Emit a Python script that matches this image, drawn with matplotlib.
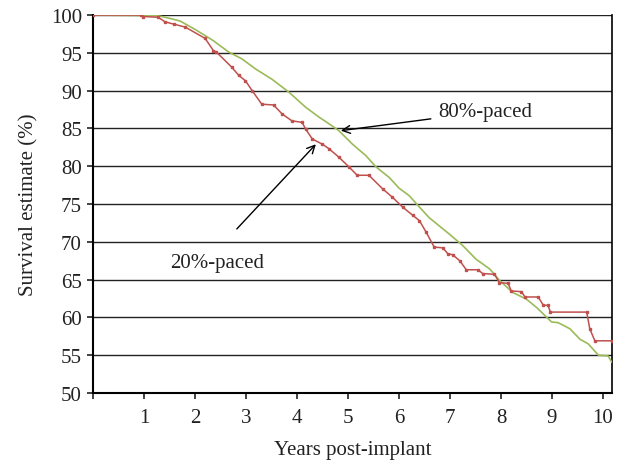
import numpy as np
import matplotlib
matplotlib.use('Agg')
import matplotlib.pyplot as plt

plt.rcParams['font.family'] = ['Liberation Serif', 'DejaVu Serif']

######data######
red_years = [0.0, 0.95, 0.99, 1.28, 1.41, 1.58, 1.81, 2.20, 2.36, 2.42, 2.72, 2.86, 2.99,
             3.12, 3.31, 3.54, 3.71, 3.90, 4.10, 4.17, 4.30, 4.50, 4.63, 4.82, 5.02,
             5.18, 5.41, 5.68, 5.87, 6.07, 6.27, 6.40, 6.53, 6.69, 6.86, 6.96, 7.05,
             7.19, 7.32, 7.55, 7.64, 7.87, 7.97, 8.14, 8.20, 8.40, 8.47, 8.73, 8.83,
             8.92, 8.97, 9.68, 9.74, 9.84, 10.18]
red_surv = [100, 100, 99.8, 99.7, 99.1, 98.8, 98.4, 96.9, 95.3, 95.1, 93.1, 92.0, 91.3,
            90.0, 88.2, 88.1, 86.9, 86.0, 85.8, 84.9, 83.6, 82.9, 82.3, 81.2, 79.9,
            78.8, 78.8, 77.0, 75.9, 74.6, 73.5, 72.8, 71.3, 69.3, 69.2, 68.4, 68.3,
            67.5, 66.3, 66.3, 65.8, 65.7, 64.6, 64.5, 63.5, 63.4, 62.7, 62.7, 61.6,
            61.6, 60.7, 60.7, 58.5, 56.9, 56.9]

green_years = [0.0, 1.28, 1.54, 1.71, 2.00, 2.17, 2.36, 2.66, 2.92, 3.18, 3.51, 3.84,
               4.17, 4.43, 4.63, 4.82, 5.09, 5.35, 5.55, 5.81, 6.00, 6.20, 6.40, 6.59,
               6.79, 6.99, 7.25, 7.51, 7.78, 7.97, 8.23, 8.50, 8.70, 8.99, 9.12, 9.35,
               9.55, 9.71, 9.91, 10.10, 10.17]
green_surv = [100, 99.9, 99.5, 99.2, 98.1, 97.4, 96.6, 95.1, 94.2, 92.9, 91.5, 89.8,
              87.8, 86.5, 85.6, 84.7, 82.9, 81.4, 79.9, 78.5, 77.1, 76.1, 74.6, 73.2,
              72.1, 71.0, 69.5, 67.7, 66.4, 64.9, 63.3, 62.4, 61.3, 59.4, 59.3, 58.5,
              57.1, 56.5, 55.0, 54.9, 54.1]

xticks = [0, 1, 2, 3, 4, 5, 6, 7, 8, 9, 10]
xticklabels = ['', '1', '2', '3', '4', '5', '6', '7', '8', '9', '10']
yticks = [50, 55, 60, 65, 70, 75, 80, 85, 90, 95, 100]

#plot
fig = plt.figure(figsize=(6.22, 4.64), dpi=100)
ax = fig.add_axes([0.1495, 0.1509, 0.8339, 0.8146])

for yv in yticks[1:]:
    ax.axhline(yv, color='#222222', lw=1.0, zorder=1)

ax.plot(green_years, green_surv, color='#9BBB59', lw=1.2, zorder=3)
ax.plot(red_years, red_surv, color='#C0504D', lw=1.1, marker='s', markersize=1.8,
        zorder=4)

ax.set_xlim(0, 10.17)
ax.set_ylim(50, 100)
ax.set_xticks(xticks)
ax.set_xticklabels(xticklabels)
ax.set_yticks(yticks)
ax.tick_params(axis='x', direction='out', length=4, width=1.2, pad=7, labelsize=15,
               colors='#222222')
ax.tick_params(axis='y', direction='out', length=4, width=1.2, pad=4, labelsize=15,
               colors='#222222')

ax.spines['top'].set_visible(False)
ax.spines['left'].set_linewidth(1.5)
ax.spines['bottom'].set_linewidth(1.5)
ax.spines['right'].set_linewidth(1.2)

ax.set_xlabel('Years post-implant', fontsize=15, color='#222222', labelpad=9)
ax.set_ylabel('Survival estimate (%)', fontsize=15, color='#222222', labelpad=9)

ax.annotate('80%-paced', xy=(4.86, 84.7), xytext=(6.76, 87.2), fontsize=15,
            color='#222222', va='center', ha='left',
            arrowprops=dict(arrowstyle='->', color='black', lw=1.0,
                            shrinkA=3, shrinkB=0, mutation_scale=14))
ax.annotate('20%-paced', xy=(4.37, 82.9), xytext=(1.51, 67.3), fontsize=15,
            color='#222222', va='center', ha='left')
ax.annotate('', xy=(4.37, 82.9), xytext=(2.82, 71.7),
            arrowprops=dict(arrowstyle='->', color='black', lw=1.0,
                            shrinkA=0, shrinkB=0, mutation_scale=14))

plt.savefig('out.png', dpi=100)
